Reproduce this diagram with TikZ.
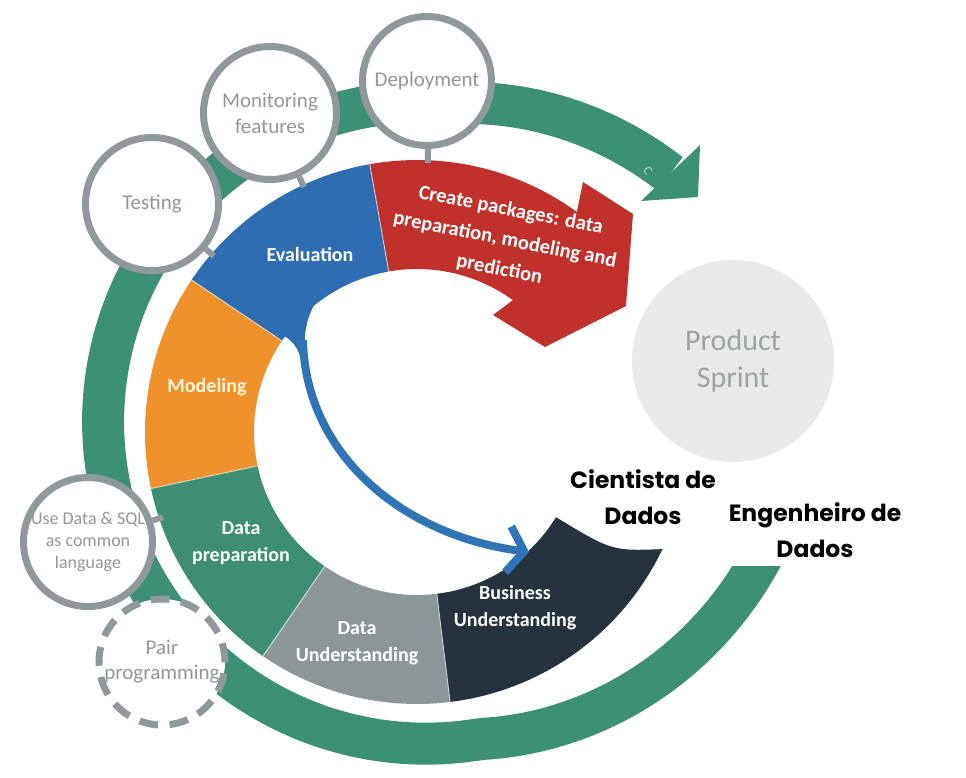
\documentclass[tikz,border=0pt]{standalone}
\usepackage{fontspec}
\setmainfont{Carlito}
\newfontfamily\headfont{Poppins}
\usetikzlibrary{arrows.meta,calc}

\definecolor{ringgreen}{HTML}{3C9174}
\definecolor{prepgreen}{HTML}{3E8F72}
\definecolor{segnavy}{HTML}{27323F}
\definecolor{seggray}{HTML}{8C9698}
\definecolor{segorange}{HTML}{EF922C}
\definecolor{segblue}{HTML}{2F6DB3}
\definecolor{segred}{HTML}{C0312B}
\definecolor{arrowblue}{HTML}{2F74B5}
\definecolor{bubblegray}{HTML}{8F989B}
\definecolor{sprintfill}{HTML}{E7E9EA}
\definecolor{sprinttext}{HTML}{9DA4A7}
\definecolor{modelcream}{HTML}{FFF6DA}

\begin{document}
\begin{tikzpicture}[x=1pt,y=-1pt,
  declare function={ringr(\t)=318+0.75*max(0,85-\t)+6*min(max(\t-85,0),195)/195+0.7*max(0,\t-280);},
  bubble/.style={circle,draw=bubblegray,line width=7pt,fill=white,inner sep=-8pt,text=bubblegray,align=center},
  stub/.style={draw=bubblegray,line width=6pt},
  lbl/.style={text=white,font=\bfseries\fontsize{20}{27}\selectfont,align=center},
  segline/.style={draw=white,line width=1pt,opacity=0.6},
  role/.style={font=\headfont\bfseries\fontsize{23.5}{36}\selectfont,align=center},
]
\fill[white] (0,0) rectangle (966,777);
\useasboundingbox (0,0) rectangle (966,777);

% outer sprint cycle
\draw[ringgreen,line width=42pt] plot[domain=45:340,samples=160]
  ({424+ringr(\x)*cos(\x)},{420-ringr(\x)*sin(\x)});
\fill[ringgreen] (700,145) -- (698,197) -- (641,201) -- cycle;
\node[text=ringgreen!40!white,rotate=-55,font=\fontsize{13}{13}\selectfont] (cmark) at (648,171) {C};

% inner process ring
\fill[segblue] plot[domain=100:146,samples=30] ({417+272*cos(\x)},{432-272*sin(\x)})
  -- plot[domain=146:100,samples=30] ({417+163*cos(\x)},{432-163*sin(\x)}) -- cycle;
\fill[segorange] plot[domain=146:192,samples=30] ({417+272*cos(\x)},{432-272*sin(\x)})
  -- plot[domain=192:146,samples=30] ({417+163*cos(\x)},{432-163*sin(\x)}) -- cycle;
\fill[prepgreen] plot[domain=192:235.5,samples=30] ({417+272*cos(\x)},{432-272*sin(\x)})
  -- plot[domain=235.5:192,samples=30] ({417+163*cos(\x)},{432-163*sin(\x)}) -- cycle;
\fill[seggray] plot[domain=235.5:277,samples=30] ({417+272*cos(\x)},{432-272*sin(\x)})
  -- plot[domain=277:235.5,samples=30] ({417+163*cos(\x)},{432-163*sin(\x)}) -- cycle;
\fill[segnavy] plot[domain=277:334.5,samples=30] ({417+272*cos(\x)},{432-272*sin(\x)})
  .. controls (612,551) .. (556,517.2)
  -- plot[domain=328.5:277,samples=30] ({417+163*cos(\x)},{432-163*sin(\x)}) -- cycle;
\fill[segred] plot[domain=100:54,samples=30] ({417+272*cos(\x)},{432-272*sin(\x)})
  -- (583,182) -- (633,214) -- (626,306) -- (545,347) -- (493,315)
  -- plot[domain=54:100,samples=30] ({417+163*cos(\x)},{432-163*sin(\x)}) -- cycle;
\foreach \a in {100,146,192,235.5,277}
  \draw[segline] ({417+163*cos(\a)},{432-163*sin(\a)}) -- ({417+272*cos(\a)},{432-272*sin(\a)});

% feedback arrow from evaluation back to business understanding
\fill[segblue] (317,300) .. controls (306,318) and (303,334) .. (306,356)
  -- (300,356) .. controls (297,346) and (290,338) .. (280,334) -- cycle;
\coordinate (evalfoot) at (303,340);
\coordinate (bizedge) at (529,552);
\draw[arrowblue,line width=8pt,-{Straight Barb[length=16pt,width=46pt]}]
  (evalfoot) .. controls (305,452) and (400,535) .. (bizedge);

% practice bubbles
\node[bubble,minimum size=126pt,dash pattern=on 19pt off 11.45pt,font=\fontsize{21}{25}\selectfont] (pair) at (162,662) {Pair\\programming};
\node[bubble,minimum size=129pt,font=\fontsize{18}{22}\selectfont] (usedata) at (88,542) {Use Data \& SQL\\as common\\language};
\node[bubble,minimum size=133pt,font=\fontsize{21}{26}\selectfont] (testing) at (152,204) {Testing};
\node[bubble,minimum size=133pt,font=\fontsize{21}{26}\selectfont] (monitor) at (270,113) {Monitoring\\features};
\node[bubble,minimum size=129pt,font=\fontsize{21}{26}\selectfont] (deploy) at (427,81) {Deployment};
\node[circle,fill=sprintfill,minimum size=202pt,inner sep=0pt,text=sprinttext,align=center,
  font=\fontsize{30}{37}\selectfont] (sprint) at (733,361) {Product\\Sprint};

\coordinate (deploy-foot) at (428,163);
\coordinate (monitor-foot) at (304,187);
\coordinate (testing-foot) at (214,256);
\coordinate (usedata-foot) at (163,517);
\draw[stub] (deploy) -- (deploy-foot);
\draw[stub] (monitor) -- (monitor-foot);
\draw[stub] (testing) -- (testing-foot);
\draw[stub] (usedata) -- (usedata-foot);

% stage labels
\node[lbl,rotate=-11,font=\bfseries\fontsize{20.5}{30}\selectfont] (pkglbl) at (505,240)
  {Create packages: data\\preparation, modeling and\\prediction};
\node[lbl] (evallbl) at (310,255) {Evaluation};
\node[lbl,text=modelcream] (modellbl) at (207,387) {Modeling};
\node[lbl] (preplbl) at (241,543) {Data\\preparation};
\node[lbl] (dulbl) at (357,643) {Data\\Understanding};
\node[lbl] (bulbl) at (515,608) {Business\\Understanding};

% roles
\node[role] (cientista) at (643,497) {Cientista de\\Dados};
\node[role,fill=white,anchor=south,inner xsep=6pt,inner ysep=8pt] (engenheiro) at (815,566) {Engenheiro de\\Dados};
\end{tikzpicture}
\end{document}
